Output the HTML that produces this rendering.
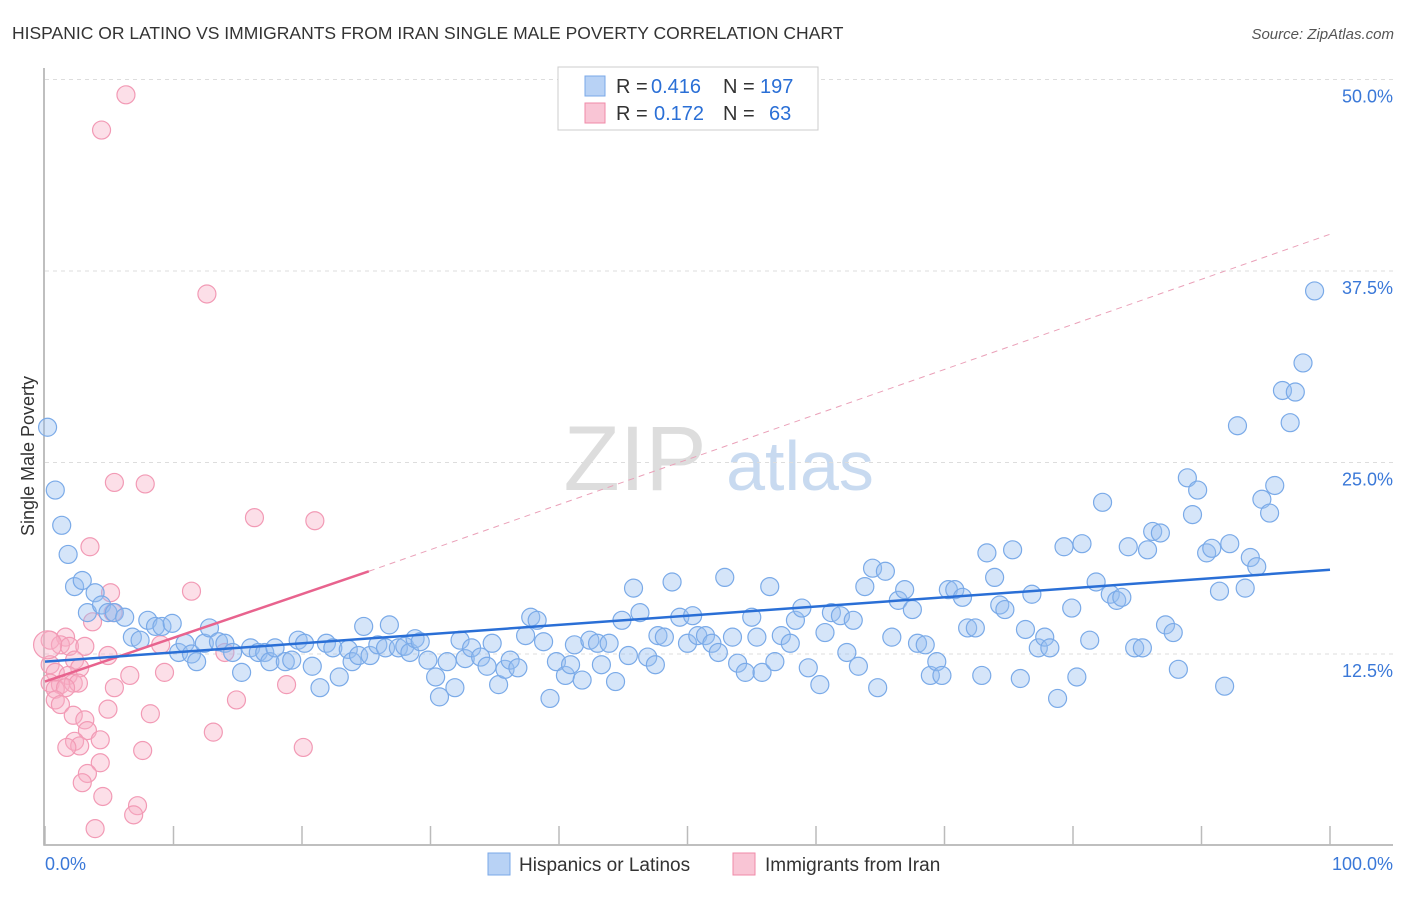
<!DOCTYPE html>
<html><head><meta charset="utf-8"><style>
body{margin:0;background:#fff;font-family:"Liberation Sans",sans-serif}
svg text{font-family:"Liberation Sans",sans-serif}
</style></head><body>
<svg id="c" width="1406" height="892" xmlns="http://www.w3.org/2000/svg">
<text x="12" y="39" font-size="17.5" fill="#333">HISPANIC OR LATINO VS IMMIGRANTS FROM IRAN SINGLE MALE POVERTY CORRELATION CHART</text>
<text x="1394" y="39" font-size="15" fill="#555" text-anchor="end" font-style="italic">Source: ZipAtlas.com</text>
<text transform="translate(34,456) rotate(-90)" font-size="18" fill="#333" text-anchor="middle">Single Male Poverty</text>
<g><text x="635" y="490" font-size="92" fill="#ddd" text-anchor="middle" font-family="Liberation Serif">ZIP</text><text x="800" y="490" font-size="70" fill="#c8daf0" text-anchor="middle">atlas</text></g>
<g id="grid"></g><g id="axes"></g><g id="pts"></g><g id="lines"></g>
<g>
<rect x="558" y="67" width="260" height="63" fill="#fff" stroke="#ccc"/>
<rect x="585" y="76" width="20" height="20" fill="#b8d2f5" stroke="#7aa8e8"/>
<rect x="585" y="103" width="20" height="20" fill="#f9c5d5" stroke="#f08aa8"/>
<text x="616" y="93" font-size="20" fill="#333">R =</text>
<text x="651" y="93" font-size="20" fill="#2a6fd6">0.416</text>
<text x="723" y="93" font-size="20" fill="#333">N =</text>
<text x="760" y="93" font-size="20" fill="#2a6fd6">197</text>
<text x="616" y="120" font-size="20" fill="#333">R =</text>
<text x="654" y="120" font-size="20" fill="#2a6fd6">0.172</text>
<text x="723" y="120" font-size="20" fill="#333">N =</text>
<text x="769" y="120" font-size="20" fill="#2a6fd6">63</text>
</g>
<g>
<rect x="488" y="853" width="22" height="22" fill="#b8d2f5" stroke="#7aa8e8"/>
<text x="519" y="871" font-size="19" fill="#333">Hispanics or Latinos</text>
<rect x="733" y="853" width="22" height="22" fill="#f9c5d5" stroke="#f08aa8"/>
<text x="765" y="871" font-size="19" fill="#333">Immigrants from Iran</text>
</g>
</svg>
<script>
const yTicks=[12.5,25,37.5,50];
const yTickLabels=["12.5%","25.0%","37.5%","50.0%"];
const xTickVals=[0,10,20,30,40,50,60,70,80,90,100];
const blueX=[0.2,0.8,1.3,1.8,2.3,2.9,3.3,3.9,4.4,4.9,5.4,6.2,6.8,7.4,8.0,8.6,9.1,9.9,10.4,10.9,11.4,11.8,12.4,12.8,13.5,14.0,14.6,15.3,16.0,16.6,17.1,17.5,17.9,18.7,19.2,19.7,20.2,20.8,21.4,21.9,22.4,22.9,23.6,23.9,24.4,24.8,25.3,25.9,26.5,26.8,27.5,28.0,28.4,28.8,29.2,29.8,30.4,30.7,31.3,31.9,32.3,32.7,33.2,33.9,34.4,34.8,35.3,35.8,36.2,36.8,37.4,37.8,38.3,38.8,39.3,39.8,40.5,40.9,41.2,41.8,42.4,43.0,43.3,43.9,44.4,44.9,45.4,45.8,46.3,46.9,47.5,47.7,48.2,48.8,49.4,50.0,50.4,50.8,51.4,51.9,52.4,52.9,53.5,53.9,54.5,55.0,55.4,55.8,56.4,56.8,57.3,58.0,58.4,58.9,59.4,60.3,60.7,61.2,61.9,62.4,62.9,63.3,63.8,64.4,64.8,65.4,65.9,66.4,66.9,67.5,67.9,68.5,68.9,69.4,69.8,70.3,70.8,71.4,71.8,72.4,72.9,73.3,73.9,74.3,74.7,75.3,75.9,76.3,76.8,77.3,77.8,78.2,78.8,79.3,79.9,80.3,80.7,81.3,81.8,82.3,82.9,83.4,83.8,84.3,84.8,85.4,85.8,86.2,86.8,87.2,87.8,88.2,88.9,89.3,89.7,90.4,90.8,91.4,91.8,92.2,92.8,93.4,93.8,94.3,94.7,95.3,95.7,96.3,96.9,97.3,97.9,98.8];
const blueY=[27.3,23.2,20.9,19.0,16.9,17.3,15.2,16.5,15.7,15.2,15.2,14.9,13.6,13.4,14.7,14.3,14.3,14.5,12.6,13.2,12.5,12.0,13.2,14.2,13.3,13.2,12.6,11.3,12.9,12.6,12.6,12.0,12.9,12.0,12.1,13.4,13.2,11.7,10.3,13.2,12.9,11.0,12.8,12.0,12.4,14.3,12.4,13.1,12.9,14.4,12.9,13.0,12.6,13.5,13.3,12.1,11.0,9.7,12.0,10.3,13.4,12.2,12.9,12.3,11.7,13.2,10.5,11.5,12.1,11.6,13.7,14.9,14.7,13.3,9.6,12.0,11.1,11.8,13.1,10.8,13.4,13.2,11.8,13.2,10.7,14.7,12.4,16.8,15.2,12.3,11.8,13.7,13.6,17.2,14.9,13.2,15.0,13.7,13.7,13.2,12.6,17.5,13.6,11.9,11.3,14.9,13.6,11.3,16.9,12.0,13.7,13.2,14.7,15.5,11.6,10.5,13.9,15.2,15.0,12.6,14.7,11.7,16.9,18.1,10.3,17.9,13.6,16.0,16.7,15.4,13.2,13.1,11.1,12.0,11.1,16.7,16.7,16.2,14.2,14.2,11.1,19.1,17.5,15.7,15.4,19.3,10.9,14.1,16.4,12.9,13.6,12.9,9.6,19.5,15.5,11.0,19.7,13.4,17.2,22.4,16.4,16.0,16.2,19.5,12.9,12.9,19.3,20.5,20.4,14.4,13.9,11.5,24.0,21.6,23.2,19.1,19.4,16.6,10.4,19.7,27.4,16.8,18.8,18.2,22.6,21.7,23.5,29.7,27.6,29.6,31.5,36.2];
const pinkX=[6.3,4.4,12.6,5.4,7.8,16.3,21.0,3.5,5.1,11.4,5.3,3.7,1.6,0.4,1.2,1.9,3.1,4.9,2.3,0.4,2.7,0.8,1.8,0.4,1.2,2.2,2.6,0.8,1.6,6.6,9.3,5.4,14.0,18.8,0.8,1.2,4.9,14.9,8.2,2.2,3.1,3.3,13.1,4.3,2.3,2.7,1.7,7.6,20.1,4.3,3.3,2.9,4.5,7.2,6.9,3.9,0.2,9.0];
const pinkY=[49.0,46.7,36.0,23.7,23.6,21.4,21.2,19.5,16.5,16.6,15.2,14.6,13.6,13.4,13.1,13.0,13.0,12.4,12.1,11.8,11.6,11.3,11.1,10.6,10.5,10.6,10.6,10.2,10.3,11.1,11.3,10.3,12.6,10.5,9.5,9.2,8.9,9.5,8.6,8.5,8.2,7.5,7.4,6.9,6.8,6.5,6.4,6.2,6.4,5.4,4.7,4.1,3.2,2.6,2.0,1.1,13.1,13.1];
const blueTrend=[[0,12.0],[100,18.0]];
const pinkTrend=[[0,10.7],[25.2,17.9]];
const pinkDash=[[25.2,17.9],[100,39.9]];
const NS="http://www.w3.org/2000/svg";
const X0=45,X1=1330,Y0=845.5,YS=15.32;
function sx(v){return X0+(X1-X0)*v/100;}
function sy(v){return Y0-YS*v;}
function mk(t,a,p){const e=document.createElementNS(NS,t);for(const k in a)e.setAttribute(k,a[k]);p.appendChild(e);return e;}
const grid=document.getElementById('grid'),axes=document.getElementById('axes'),pts=document.getElementById('pts'),lines=document.getElementById('lines');
yTicks.forEach((v,i)=>{const l=mk('line',{x1:45,x2:1393,y1:sy(v),y2:sy(v),stroke:'#ddd','stroke-dasharray':'4,4'},grid);


const t=mk('text',{x:1393,y:sy(v)+23,'font-size':18,fill:'#3a78d8','text-anchor':'end'},axes);t.textContent=yTickLabels[i];

});
const ax=mk('path',{d:'M44,68 V845 H1393',fill:'none',stroke:'#aaa','stroke-width':1.5},axes);


xTickVals.forEach(v=>{const l=mk('line',{x1:sx(v),x2:sx(v),y1:826,y2:845,stroke:'#bbb','stroke-width':1.5},axes);

});
let t=mk('text',{x:45,y:870,'font-size':18,fill:'#3a78d8'},axes);t.textContent='0.0%';


t=mk('text',{x:1393,y:870,'font-size':18,fill:'#3a78d8','text-anchor':'end'},axes);t.textContent='100.0%';


pinkX.forEach((x,i)=>{const c=mk('circle',{cx:sx(x),cy:sy(pinkY[i]),r:i==56?14:9,fill:'rgba(248,175,198,0.4)',stroke:'#f29ab5','stroke-width':1.2},pts);

});
blueX.forEach((x,i)=>{const c=mk('circle',{cx:sx(x),cy:sy(blueY[i]),r:9,fill:'rgba(150,190,240,0.4)',stroke:'#7aaae8','stroke-width':1.2},pts);

});
function ln(p,st,w,da,name){const l=mk('line',{x1:sx(p[0][0]),y1:sy(p[0][1]),x2:sx(p[1][0]),y2:sy(p[1][1]),stroke:st,'stroke-width':w},lines);if(da)l.setAttribute('stroke-dasharray',da);

}
ln(pinkDash,'#eaa0b8',1,'6,5','iran-trend-extension');
ln(pinkTrend,'#e8638e',2.5,null,'iran-trend-line');
ln(blueTrend,'#2a6fd6',2.5,null,'hispanic-trend-line');
</script>
</body></html>
